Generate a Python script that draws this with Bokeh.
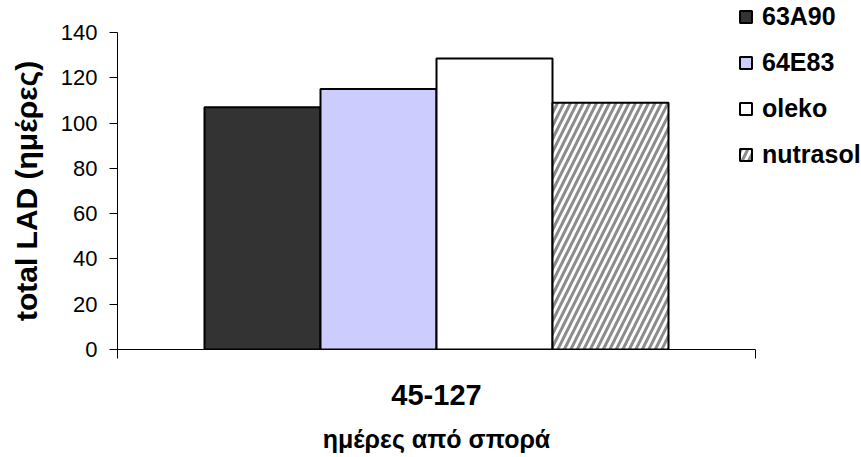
from bokeh.plotting import figure
from bokeh.models import Range1d, Legend, LegendItem, FixedTicker, LinearAxis
from bokeh.embed import file_html
from bokeh.resources import INLINE

period = ["45-127"]
hybrids = ["63A90", "64E83", "oleko", "nutrasol"]
lad_values = [107, 115, 128.5, 109]
y_ticks = [0, 20, 40, 60, 80, 100, 120, 140]
y_title = "total LAD (ημέρες)"
x_title = "ημέρες από σπορά"

fills = ["#333333", "#CCCCFF", "#FFFFFF", "#FFFFFF"]
hatches = [None, None, None, "/"]

FONT = "Liberation Sans"

# axis extents (data units); the frame is a bit larger so the legend fits in it
X_MAX = 5.5           # plot area width in bar-widths
Y_MAX = 140
FRAME_W, FRAME_H = 744, 349
AX_W, AX_H = 638, 317
x_end = X_MAX * FRAME_W / AX_W
y_end = Y_MAX * FRAME_H / AX_H

p = figure(x_range=Range1d(0, x_end), y_range=Range1d(0, y_end),
           frame_width=FRAME_W, frame_height=FRAME_H,
           min_border_left=117, min_border_right=0,
           min_border_top=0, min_border_bottom=108,
           x_axis_type=None, y_axis_type=None,
           output_backend="svg", toolbar_location=None)

p.outline_line_color = None
p.xgrid.grid_line_color = None
p.ygrid.grid_line_color = None
p.background_fill_color = "white"
p.border_fill_color = "white"

group_center = X_MAX / 2
n = len(hybrids)
items = []
for i, (name, val, fc, hp) in enumerate(zip(hybrids, lad_values, fills, hatches)):
    xc = group_center + (i - (n - 1) / 2)
    src = dict(x=[xc], top=[val])
    kw = {}
    if hp:
        kw = dict(hatch_pattern=hp, hatch_color="#8c8c8c", hatch_scale=13, hatch_weight=3)
    r = p.vbar(x="x", top="top", bottom=0, width=1.0, source=src,
               fill_color=fc, line_color="black", line_width=2, **kw)
    items.append(LegendItem(label=name, renderers=[r]))

legend = Legend(items=items, location=(621, 180),
                glyph_width=15, glyph_height=15, label_height=15,
                spacing=17, padding=0, margin=0, label_standoff=9,
                label_text_font=FONT, label_text_font_style="bold",
                label_text_font_size="25px", label_text_color="black",
                border_line_color=None, background_fill_alpha=0)
p.add_layout(legend, "center")

# y axis
yaxis = LinearAxis(bounds=(0, Y_MAX), ticker=FixedTicker(ticks=y_ticks))
yaxis.major_label_text_font = FONT
yaxis.major_label_text_font_size = "22px"
yaxis.major_label_text_color = "black"
yaxis.major_label_standoff = 12
yaxis.major_tick_out = 8
yaxis.major_tick_in = 0
yaxis.minor_tick_line_color = None
yaxis.axis_line_color = "black"
yaxis.major_tick_line_color = "black"
p.add_layout(yaxis, "left")

# y title, centred on the drawn y axis (0..Y_MAX)
y_mid = Y_MAX / 2
ytitle_axis = LinearAxis(ticker=FixedTicker(ticks=[y_mid]),
                         major_label_overrides={y_mid: y_title},
                         major_label_orientation="vertical")
ytitle_axis.major_label_text_font = FONT
ytitle_axis.major_label_text_font_style = "bold"
ytitle_axis.major_label_text_font_size = "30px"
ytitle_axis.major_label_text_color = "black"
ytitle_axis.major_label_standoff = 15
ytitle_axis.axis_line_color = None
ytitle_axis.major_tick_line_color = None
ytitle_axis.minor_tick_line_color = None
ytitle_axis.major_tick_out = 0
ytitle_axis.major_tick_in = 0
p.add_layout(ytitle_axis, "left")

# x axis: label at group centre, boundary ticks as minor ticks
xaxis = LinearAxis(bounds=(0, X_MAX),
                   ticker=FixedTicker(ticks=[group_center], minor_ticks=[0, X_MAX]),
                   major_label_overrides={group_center: period[0]})
xaxis.major_label_text_font = FONT
xaxis.major_label_text_font_style = "bold"
xaxis.major_label_text_font_size = "29px"
xaxis.major_label_text_color = "black"
xaxis.major_label_standoff = 26
xaxis.major_tick_line_color = None
xaxis.major_tick_in = 0
xaxis.major_tick_out = 0
xaxis.minor_tick_in = 0
xaxis.minor_tick_out = 9
xaxis.minor_tick_line_color = "black"
xaxis.axis_line_color = "black"
p.add_layout(xaxis, "below")

# x title, centred on the drawn x axis (0..X_MAX)
xtitle_axis = LinearAxis(ticker=FixedTicker(ticks=[group_center]),
                         major_label_overrides={group_center: x_title})
xtitle_axis.major_label_text_font = FONT
xtitle_axis.major_label_text_font_style = "bold"
xtitle_axis.major_label_text_font_size = "25px"
xtitle_axis.major_label_text_color = "black"
xtitle_axis.major_label_standoff = 17
xtitle_axis.axis_line_color = None
xtitle_axis.major_tick_line_color = None
xtitle_axis.minor_tick_line_color = None
xtitle_axis.major_tick_out = 0
xtitle_axis.major_tick_in = 0
p.add_layout(xtitle_axis, "below")

open("out.html", "w").write(file_html(p, INLINE))
